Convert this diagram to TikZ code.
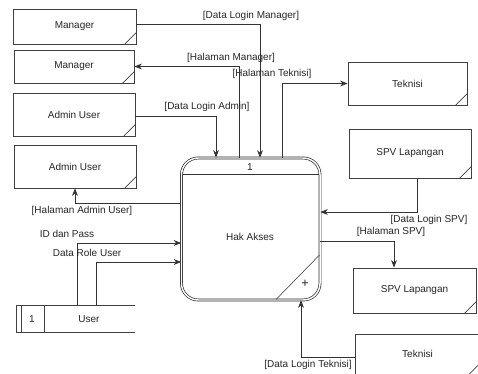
\documentclass[tikz,border=0pt]{standalone}
\usepackage{fontspec}
\setmainfont{Liberation Sans}
\usetikzlibrary{arrows.meta,calc}
\begin{document}
\begin{tikzpicture}[x=0.75pt,y=-0.75pt,
  every node/.style={font=\fontsize{7.5}{9}\selectfont, text=black!85},
  ent/.style={draw=black!75, line width=0.6pt, inner sep=0pt},
  edge line/.style={draw=black!75, line width=0.6pt},
  flow/.style={draw=black!80, line width=0.6pt, -{Stealth[length=5.6pt,width=4.4pt,inset=1.8pt]}},
  lbl/.style={inner sep=0pt},
]
\useasboundingbox (0,0) rectangle (478,374);
\fill[white] (0,0) rectangle (478,374);
\clip (0,0) rectangle (478,374);

% external entities
\node[ent, minimum width=92.25pt, minimum height=26.25pt] (m1) at (74.5,26.5) {Manager};
\node[ent, minimum width=90pt, minimum height=24.75pt] (m2) at (74,66.5) {Manager};
\node[ent, minimum width=91.5pt, minimum height=32.25pt] (a1) at (74,114.5) {Admin User};
\node[ent, minimum width=91.5pt, minimum height=32.25pt] (a2) at (75,166.5) {Admin User};
\node[ent, minimum width=89.25pt, minimum height=32.25pt] (t1) at (407.5,83.5) {Teknisi};
\node[ent, minimum width=91.5pt, minimum height=36.75pt] (s1) at (410,153.5) {SPV Lapangan};
\node[ent, minimum width=92.25pt, minimum height=33.75pt] (s2) at (414.5,290.5) {SPV Lapangan};
\node[ent, minimum width=93.75pt, minimum height=30.4pt] (t2) at (417.5,354.25) {Teknisi};
\foreach \n in {m1,m2,a1,a2,t1,s1,s2,t2}
  \draw[black!75, line width=0.5pt] ([xshift=-9pt]\n.south east) -- ([yshift=9pt]\n.south east);

% data store
\node[inner sep=0pt, minimum width=88.5pt, minimum height=19.5pt] (st) at (76,319) {};
\draw[edge line] (st.north east) -- (st.north west) -- (st.south west) -- (st.south east);
\draw[edge line] (21,0 |- st.north) -- (21,0 |- st.south);
\draw[edge line] (44,0 |- st.north) -- (44,0 |- st.south);
\node (stn) at (32,319) {1};
\node (stl) at (89,319) {User};

% process
\node[draw=black!85, line width=0.5pt, double, double distance=1.1pt, rounded corners=12.5pt,
      minimum width=103.9pt, minimum height=106.5pt, inner sep=0pt] (p) at (250.75,229) {};
\draw[black!80, line width=0.5pt] (182.5,174) -- (319,174);
\draw[black!80, line width=0.4pt] (276,299.5) -- (319.5,255);
\node (pn) at (250,167) {1};
\node (pt) at (250,237) {Hak Akses};
\node[font=\fontsize{9.5}{10}\selectfont] (pp) at (305,283.5) {+};

% flows
\draw[flow] ([yshift=1.9pt]m1.east) -| (260,0 |- p.north);
\node[lbl] (l1) at (251,16) {[Data Login Manager]};

\draw[flow] (239,0 |- p.north) |- (m2.east);
\node[lbl] (l2) at (231,58) {[Halaman Manager]};

\draw[flow] (282,0 |- p.north) |- (t1.west);
\node[lbl] (l3) at (272,74) {[Halaman Teknisi]};

\draw[flow] ([yshift=-1.1pt]a1.east) -| (216,0 |- p.north);
\node[lbl] (l4) at (207,107) {[Data Login Admin]};

\draw[flow] (p.west |- 0,203) -| (a2.south);
\node[lbl] (l5) at (82,211) {[Halaman Admin User]};

\draw[flow] (77,0 |- st.north) |- (p.west |- 0,243);
\node[lbl] (l6) at (67,234) {ID dan Pass};

\draw[flow] (96,0 |- st.north) |- (p.west |- 0,262);
\node[lbl] (l7) at (87,253) {Data Role User};

\draw[flow] (417,0 |- s1.south) |- (p.east |- 0,212);
\node[lbl] (l8) at (429,220) {[Data Login SPV]};

\draw[flow] (p.east |- 0,241) -| (394,0 |- s2.north);
\node[lbl] (l9) at (391,232) {[Halaman SPV]};

\draw[flow] ([yshift=-2.2pt]t2.west) -| (301,0 |- p.south);
\node[lbl] (l10) at (308,365) {[Data Login Teknisi]};
\end{tikzpicture}
\end{document}
